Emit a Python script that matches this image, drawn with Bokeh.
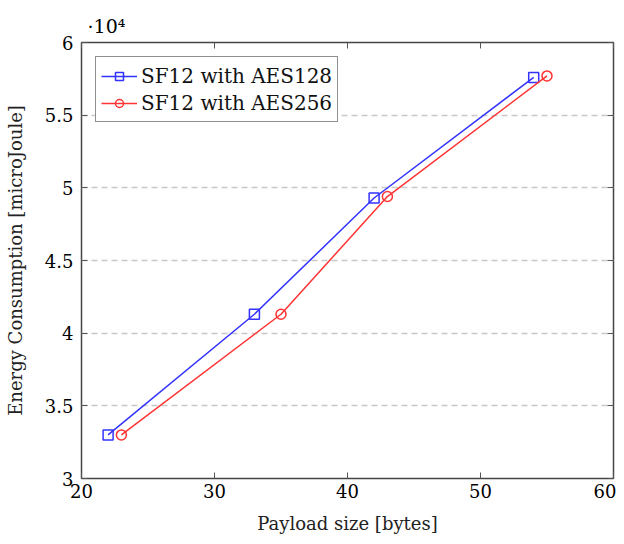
from bokeh.plotting import figure
from bokeh.models import LinearAxis, Range1d, Legend, LegendItem, FixedTicker, CustomJSTickFormatter
from bokeh.embed import file_html
from bokeh.resources import INLINE

x128 = [22, 33, 42, 54]
y128 = [33000, 41300, 49300, 57600]
x256 = [23, 35, 43, 55]
y256 = [33000, 41300, 49400, 57700]
xticks = [20, 30, 40, 50, 60]
yticks = [30000, 35000, 40000, 45000, 50000, 55000, 60000]

FONT = "DejaVu Serif"
FS = "18px"
p = figure(width=616, height=536, output_backend="svg", toolbar_location=None,
           x_range=Range1d(20, 60), y_range=Range1d(30000, 60000),
           min_border_left=81, min_border_right=3, min_border_top=42, min_border_bottom=53)

p.title.text = "·10⁴"
p.title.align = "left"
p.title.offset = 6
p.title.text_font = FONT
p.title.text_font_size = "19px"
p.title.text_font_style = "normal"
p.title.text_color = "black"
p.title.standoff = 12

fmt = CustomJSTickFormatter(code="return (tick/10000).toString();")
for ax in p.axis:
    ax.major_tick_in = 6
    ax.major_tick_out = 0
    ax.minor_tick_line_color = None
    ax.axis_line_color = None
    ax.major_tick_line_color = "#555555"
    ax.major_label_text_font = FONT
    ax.major_label_text_font_size = FS
    ax.major_label_text_color = "black"
    ax.axis_label_text_font = FONT
    ax.axis_label_text_font_size = FS
    ax.axis_label_text_font_style = "normal"
    ax.axis_label_text_color = "#222222"

p.xaxis.ticker = FixedTicker(ticks=xticks)
p.yaxis.ticker = FixedTicker(ticks=yticks)
p.yaxis.formatter = fmt
p.xaxis.axis_label = "Payload size [bytes]"
p.yaxis.axis_label = "Energy Consumption [microJoule]"
p.xaxis.major_label_standoff = 5
p.xaxis.axis_label_standoff = 12
p.yaxis.major_label_standoff = 8
p.yaxis.axis_label_standoff = 16

blank = CustomJSTickFormatter(code="return '';")
top = LinearAxis(ticker=FixedTicker(ticks=xticks), formatter=blank,
                 major_tick_in=6, major_tick_out=0, minor_tick_line_color=None,
                 axis_line_color=None, major_tick_line_color="#555555", major_label_standoff=0)
right = LinearAxis(ticker=FixedTicker(ticks=yticks), formatter=blank,
                   major_tick_in=6, major_tick_out=0, minor_tick_line_color=None,
                   axis_line_color=None, major_tick_line_color="#555555", major_label_standoff=0)
p.add_layout(top, "above")
p.add_layout(right, "right")

p.xgrid.grid_line_color = None
p.ygrid.grid_line_color = "#c8c8c8"
p.ygrid.grid_line_dash = "6 4"
p.ygrid.grid_line_width = 1.5
p.outline_line_color = "#444444"
p.outline_line_width = 1.5

l1 = p.line(x128, y128, line_color="#3333ff", line_width=1.5)
m1 = p.scatter(x128, y128, marker="square", size=10, line_color="#3333ff", fill_color=None, line_width=1.5)
l2 = p.line(x256, y256, line_color="#ff3333", line_width=1.5)
m2 = p.scatter(x256, y256, marker="circle", size=10, line_color="#ff3333", fill_color=None, line_width=1.5)

legend = Legend(items=[LegendItem(label="SF12 with AES128", renderers=[l1, m1]),
                       LegendItem(label="SF12 with AES256", renderers=[l2, m2])],
                location="top_left", label_text_font=FONT, label_text_font_size="20px",
                label_text_color="#111111",
                border_line_color="#222222", border_line_width=1.5, margin=14,
                padding=5, spacing=0, glyph_width=36, label_height=27, glyph_height=20,
                label_standoff=4, background_fill_alpha=1)
p.add_layout(legend)

open("out.html", "w").write(file_html(p, INLINE))
